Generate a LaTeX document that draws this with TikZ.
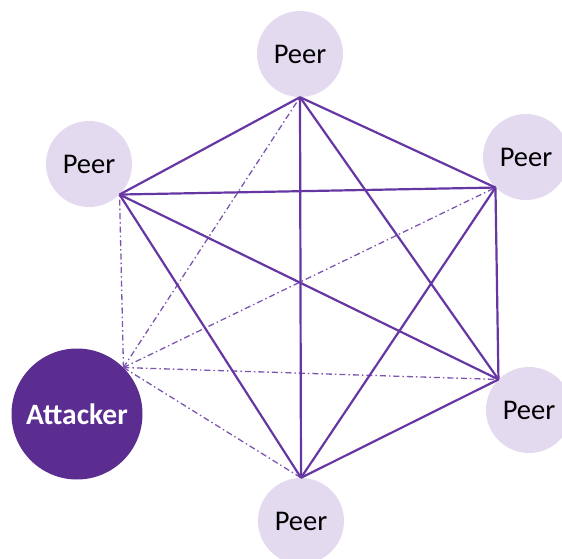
\documentclass[tikz,border=0pt]{standalone}
\usepackage{fontspec}
\setmainfont{Carlito}
\usepackage{tikz}
\definecolor{peerpurple}{HTML}{E4DAF0}
\definecolor{attackpurple}{HTML}{5C2D91}
\definecolor{linkpurple}{HTML}{6637A3}
\tikzstyle{peer}=[circle,fill=peerpurple,minimum size=86pt,inner sep=0pt,font=\fontsize{28.5}{31}\selectfont]
\tikzstyle{attacker}=[circle,fill=attackpurple,text=white,minimum size=131pt,inner sep=0pt,font=\fontsize{29.5}{32}\selectfont\bfseries]
\tikzstyle{link}=[linkpurple,line width=2.2pt]
\tikzstyle{sybil}=[linkpurple!85,line width=1.3pt,dash pattern=on 6pt off 3pt on 1.5pt off 3pt]

\begin{document}
\begin{tikzpicture}[x=1pt,y=-1pt]
      \useasboundingbox (0,0) rectangle (562,559);
      \node[peer] at (300, 54) (t) {Peer};
      \node[peer] at (89, 164) (ul) {Peer};
      \node[peer] at (526, 157) (ur) {Peer};
      \node[peer] at (529, 410) (r) {Peer};
      \node[peer] at (301, 521) (b) {Peer};
      \node[attacker] at (77, 414) (x) {Attacker};
      % attacker links
      \draw[sybil] (x.north east) edge (ul.south east);
      \draw[sybil] (x.north east) edge (t.south);
      \draw[sybil] (x.north east) edge (ur.south west);
      \draw[sybil] (x.north east) edge (r.north west);
      \draw[sybil] (x.north east) edge (b.north);
      % peer mesh
      \draw[link] (t.south) edge (ul.south east);
      \draw[link] (t.south) edge (ur.south west);
      \draw[link] (t.south) edge (r.north west);
      \draw[link] (t.south) edge (b.north);
      \draw[link] (ul.south east) edge (ur.south west);
      \draw[link] (ul.south east) edge (r.north west);
      \draw[link] (ul.south east) edge (b.north);
      \draw[link] (ur.south west) edge (r.north west);
      \draw[link] (ur.south west) edge (b.north);
      \draw[link] (r.north west) edge (b.north);
\end{tikzpicture}
\end{document}
